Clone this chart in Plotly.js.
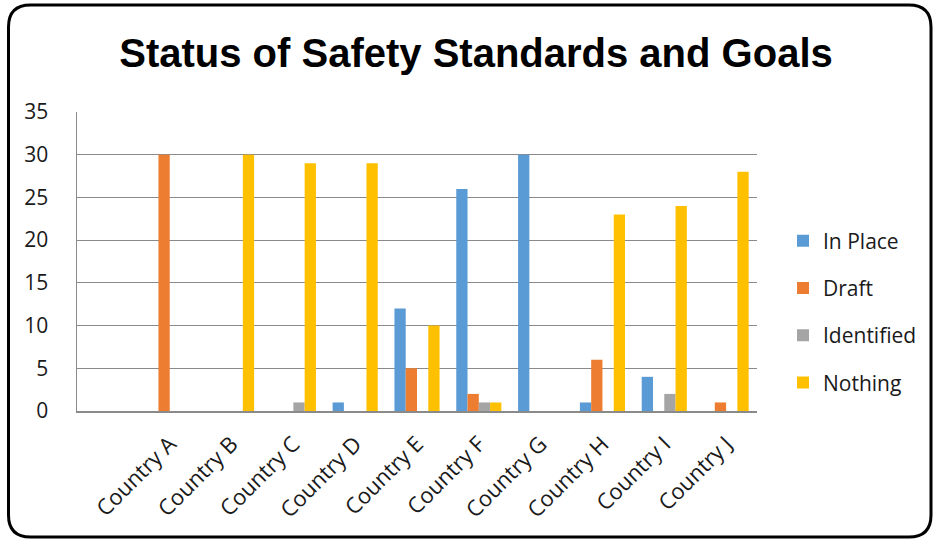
<!DOCTYPE html>
<html>
<head>
<meta charset="utf-8">
<script src="https://cdn.plot.ly/plotly-3.0.1.min.js"></script>
<style>
html,body{margin:0;padding:0;background:#fff;}
#chart{width:936px;height:540px;}
</style>
</head>
<body>
<div id="chart"></div>
<script>
const categories = ["Country A","Country B","Country C","Country D","Country E","Country F","Country G","Country H","Country I","Country J"];
const inPlace    = [0, 0, 0, 1, 12, 26, 30, 1, 4, 0];
const draft      = [30, 0, 0, 0, 5, 2, 0, 6, 0, 1];
const identified = [0, 0, 1, 0, 0, 1, 0, 0, 2, 0];
const nothing    = [0, 30, 29, 29, 10, 1, 0, 23, 24, 28];
const seriesNames = ["In Place","Draft","Identified","Nothing"];
const yTicks = [0,5,10,15,20,25,30,35];

const colors = ["#5B9BD5","#ED7D31","#A5A5A5","#FFC000"];
const seriesVals = [inPlace, draft, identified, nothing];

const traces = seriesVals.map((v,i)=>({
  type:"bar", x:categories, y:v, name:seriesNames[i],
  marker:{color:colors[i]}, legendgroup:"g"+i, hoverinfo:"skip"
}));

// plot area geometry (pixels)
const L=77, R=757, T=112, B=411;
const px = x => (x-L)/(R-L);
const py = y => (B-y)/(B-T);
// rounded border
const bl=8.5, br=931, bt=5, bb=537, r=22;
const path = `M${px(bl)},${py(bt+r)} Q${px(bl)},${py(bt)} ${px(bl+r)},${py(bt)} L${px(br-r)},${py(bt)} Q${px(br)},${py(bt)} ${px(br)},${py(bt+r)} L${px(br)},${py(bb-r)} Q${px(br)},${py(bb)} ${px(br-r)},${py(bb)} L${px(bl+r)},${py(bb)} Q${px(bl)},${py(bb)} ${px(bl)},${py(bb-r)} Z`;

const tickFont = {family:"Open Sans, Noto Sans, sans-serif", size:21, color:"#1a1a1a"};
const xTickFont = {family:"Open Sans, Noto Sans, sans-serif", size:22, color:"#1a1a1a"};

const layout = {
  width:936, height:540,
  margin:{l:L, r:936-R, t:T, b:540-B, pad:0},
  paper_bgcolor:"#fff", plot_bgcolor:"#fff",
  title:{text:"Status of Safety Standards and Goals",
    font:{family:"Liberation Sans, Arial, sans-serif", size:40, color:"#000", weight:"bold"},
    x:476/936, xanchor:"center", y:1-53/540, yanchor:"middle", xref:"container", yref:"container"},
  barmode:"group", bargap:0.27, bargroupgap:0,
  xaxis:{type:"category", range:[-1.5, 9.5], tickangle:-45, tickfont:xTickFont,
    showline:true, linecolor:"#8a8a8a", linewidth:1.5, showgrid:false, zeroline:false,
    ticks:"", ticklabelstandoff:10, fixedrange:true},
  yaxis:{range:[0,35], tickvals:yTicks, ticktext:yTicks.map(String), tickfont:tickFont,
    showline:true, linecolor:"#8a8a8a", linewidth:1.5, showgrid:true, gridcolor:"#8a8a8a", gridwidth:1.2,
    zeroline:false, ticks:"", ticklabelstandoff:23, fixedrange:true},
  showlegend:true,
  legend:{x:px(783), xanchor:"left", y:py(312), yanchor:"middle", tracegroupgap:17,
    font:{family:"Open Sans, Noto Sans, sans-serif", size:21, color:"#1a1a1a"},
    bgcolor:"rgba(0,0,0,0)", itemwidth:30},
  shapes:[{type:"path", xref:"paper", yref:"paper", path:path, line:{color:"#000", width:3}, fillcolor:"rgba(0,0,0,0)", layer:"above"}]
};

Plotly.newPlot("chart", traces, layout, {displayModeBar:false, staticPlot:true});
</script>
</body>
</html>
